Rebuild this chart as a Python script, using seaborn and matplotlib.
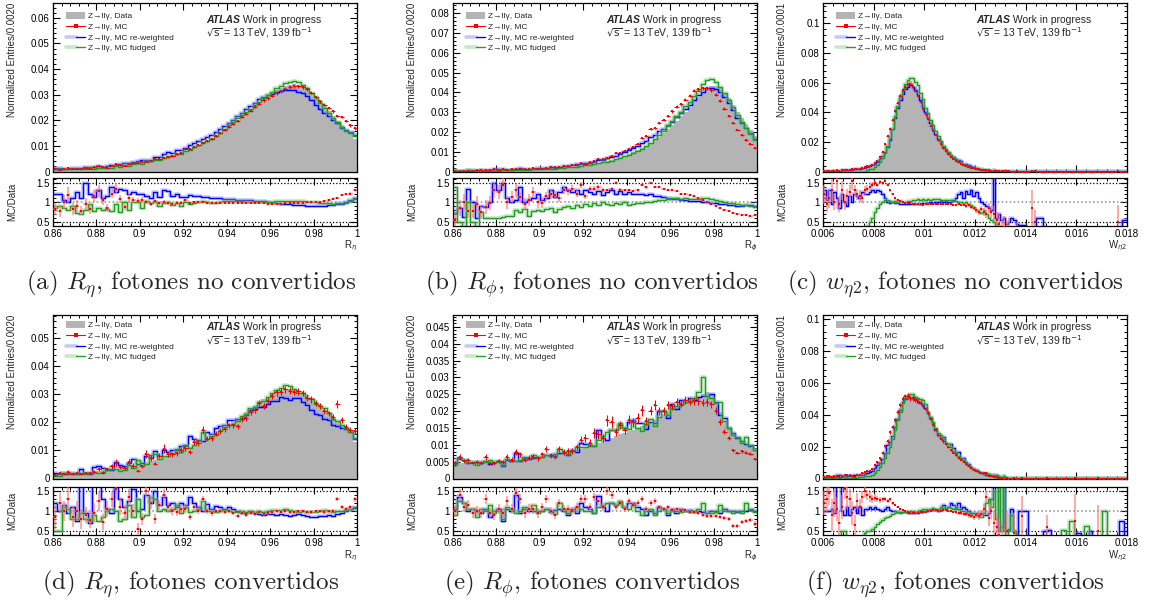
import numpy as np
import matplotlib
matplotlib.use("Agg")
import matplotlib.pyplot as plt
import seaborn as sns
from matplotlib.ticker import MultipleLocator, AutoMinorLocator, FuncFormatter
from matplotlib.patches import Patch
from matplotlib.lines import Line2D
from matplotlib.legend_handler import HandlerTuple

# ---------------------------------------------------------------- binning
EDGES_R = np.linspace(0.86, 1.0, 71)      # R_eta / R_phi, 0.002 per bin
EDGES_W = np.linspace(0.006, 0.018, 121)  # w_eta2, 0.0001 per bin

# ---------------------------------------------------------------- (a) R_eta, unconverted
DATA_A = [
    0.0010, 0.0010, 0.0011, 0.0011, 0.0012, 0.0012, 0.0013, 0.0013, 0.0014, 0.0015,
    0.0016, 0.0017, 0.0018, 0.0019, 0.0021, 0.0023, 0.0025, 0.0027, 0.0030, 0.0033,
    0.0036, 0.0039, 0.0042, 0.0046, 0.0050, 0.0054, 0.0059, 0.0064, 0.0070, 0.0076,
    0.0082, 0.0089, 0.0096, 0.0104, 0.0112, 0.0121, 0.0131, 0.0141, 0.0152, 0.0164,
    0.0176, 0.0189, 0.0203, 0.0217, 0.0231, 0.0245, 0.0259, 0.0273, 0.0286, 0.0298,
    0.0309, 0.0319, 0.0327, 0.0334, 0.0339, 0.0341, 0.0339, 0.0333, 0.0322, 0.0307,
    0.0290, 0.0272, 0.0254, 0.0236, 0.0217, 0.0198, 0.0180, 0.0162, 0.0148, 0.0128]
RATIO_MC_A = [
    0.82, 0.78, 1.0, 1.18, 0.82, 0.9, 0.78, 0.95, 0.82, 1.15,
    1.28, 1.05, 0.85, 1.22, 1.35, 1.08, 0.88, 1.1, 1.05, 1.02,
    1.05, 1.0, 0.95, 1.02, 0.98, 1.0, 0.97, 0.95, 0.98, 0.97,
    1.05, 0.98, 1.0, 1.0, 1.0, 0.99, 0.97, 0.98, 0.98, 0.99,
    0.98, 0.99, 0.98, 0.98, 0.97, 0.97, 0.98, 0.97, 0.97, 0.96,
    0.96, 0.96, 0.96, 0.97, 0.97, 0.98, 0.98, 0.99, 1.0, 1.0,
    1.0, 1.01, 1.03, 1.05, 1.08, 1.1, 1.18, 1.22, 1.22, 1.32]
RATIO_RW_A = [
    1.2, 1.2, 1.05, 1.0, 1.1, 1.25, 1.1, 1.48, 1.2, 1.12,
    1.3, 1.1, 1.15, 1.4, 1.25, 1.35, 1.3, 1.22, 1.25, 1.2,
    1.2, 1.15, 1.1, 1.25, 1.12, 1.3, 1.28, 1.15, 1.22, 1.12,
    1.12, 1.18, 1.15, 1.15, 1.12, 1.12, 1.1, 1.1, 1.1, 1.08,
    1.08, 1.07, 1.06, 1.06, 1.05, 1.05, 1.04, 1.03, 1.02, 1.0,
    0.98, 0.97, 0.96, 0.95, 0.94, 0.93, 0.92, 0.92, 0.91, 0.91,
    0.9, 0.9, 0.9, 0.92, 0.93, 0.95, 0.95, 1.0, 1.05, 1.1]
RATIO_FD_A = [
    0.85, 0.9, 0.85, 0.8, 0.9, 0.72, 0.7, 0.8, 0.95, 0.78,
    0.85, 0.8, 0.82, 0.78, 0.95, 0.75, 1.0, 0.8, 1.0, 1.0,
    0.85, 1.02, 0.98, 1.0, 0.9, 0.98, 1.0, 0.93, 0.98, 0.9,
    1.0, 0.95, 0.98, 1.0, 1.02, 1.0, 0.97, 0.98, 1.0, 1.02,
    1.03, 1.02, 1.03, 1.02, 1.0, 1.0, 1.01, 1.0, 1.0, 1.0,
    1.0, 1.02, 1.02, 1.03, 1.03, 1.04, 1.03, 1.02, 1.01, 1.0,
    1.0, 0.98, 0.98, 0.97, 0.96, 0.97, 0.97, 0.98, 1.02, 1.08]
ERR_MC_A = [
    0.15, 0.15, 0.18, 0.2, 0.15, 0.15, 0.12, 0.15, 0.12, 0.15,
    0.15, 0.12, 0.1, 0.12, 0.15, 0.1, 0.08, 0.1, 0.08, 0.08,
    0.07, 0.06, 0.06, 0.05, 0.05, 0.05, 0.05, 0.04, 0.04, 0.04,
    0.04, 0.03, 0.03, 0.03, 0.03, 0.03, 0.02, 0.02, 0.02, 0.02,
    0.02, 0.02, 0.02, 0.02, 0.02, 0.02, 0.02, 0.02, 0.02, 0.02,
    0.02, 0.02, 0.02, 0.02, 0.02, 0.02, 0.02, 0.02, 0.02, 0.02,
    0.02, 0.02, 0.02, 0.02, 0.02, 0.02, 0.02, 0.02, 0.03, 0.03]

# ---------------------------------------------------------------- (b) R_phi, unconverted
DATA_B = [
    0.0005, 0.0005, 0.0005, 0.0006, 0.0006, 0.0006, 0.0007, 0.0007, 0.0007, 0.0008,
    0.0008, 0.0009, 0.0009, 0.0010, 0.0010, 0.0011, 0.0011, 0.0012, 0.0013, 0.0014,
    0.0015, 0.0016, 0.0017, 0.0018, 0.0019, 0.0021, 0.0023, 0.0025, 0.0027, 0.0030,
    0.0033, 0.0036, 0.0040, 0.0044, 0.0048, 0.0053, 0.0058, 0.0064, 0.0071, 0.0079,
    0.0088, 0.0097, 0.0107, 0.0118, 0.0131, 0.0145, 0.0160, 0.0176, 0.0194, 0.0213,
    0.0234, 0.0256, 0.0279, 0.0302, 0.0325, 0.0355, 0.0378, 0.0400, 0.0420, 0.0432,
    0.0432, 0.0420, 0.0398, 0.0370, 0.0338, 0.0303, 0.0270, 0.0240, 0.0212, 0.0180]
RATIO_MC_B = [
    0.55, 0.85, 1.0, 0.78, 0.78, 0.95, 0.75, 0.88, 0.98, 1.3,
    1.25, 1.45, 1.0, 1.12, 1.3, 1.12, 0.95, 1.05, 1.25, 1.0,
    0.98, 1.15, 1.2, 1.18, 1.1, 1.3, 1.28, 1.35, 1.22, 1.45,
    1.15, 1.35, 1.35, 1.38, 1.32, 1.3, 1.35, 1.5, 1.32, 1.3,
    1.3, 1.28, 1.3, 1.45, 1.38, 1.48, 1.38, 1.4, 1.35, 1.32,
    1.3, 1.28, 1.22, 1.2, 1.18, 1.15, 1.1, 1.05, 1.0, 0.95,
    0.9, 0.85, 0.8, 0.76, 0.73, 0.7, 0.68, 0.66, 0.65, 0.66]
RATIO_RW_B = [
    0.72, 0.85, 0.62, 1.35, 1.0, 0.6, 0.9, 0.88, 1.0, 1.5,
    1.3, 1.5, 1.1, 1.0, 1.05, 1.4, 1.0, 1.05, 1.1, 1.2,
    1.05, 1.1, 1.3, 1.12, 1.25, 1.4, 1.3, 1.25, 1.32, 1.22,
    1.3, 1.25, 1.22, 1.28, 1.18, 1.25, 1.3, 1.2, 1.28, 1.22,
    1.25, 1.2, 1.22, 1.2, 1.18, 1.2, 1.15, 1.15, 1.12, 1.1,
    1.08, 1.08, 1.06, 1.05, 1.03, 1.02, 1.02, 1.0, 1.0, 0.98,
    0.97, 0.96, 0.95, 0.93, 0.92, 0.9, 0.9, 0.92, 0.93, 0.9]
RATIO_FD_B = [
    1.4, 0.5, 0.35, 1.0, 0.5, 0.3, 0.75, 0.6, 0.6, 0.58,
    0.6, 0.62, 0.65, 0.65, 0.8, 0.75, 0.82, 0.65, 0.78, 0.8,
    0.78, 0.82, 0.85, 0.75, 0.82, 0.88, 0.9, 0.85, 0.92, 0.88,
    0.95, 0.9, 0.98, 0.92, 1.0, 0.95, 0.92, 0.98, 0.95, 1.0,
    0.92, 0.95, 0.98, 0.98, 1.0, 1.0, 1.02, 1.05, 1.05, 1.08,
    1.1, 1.1, 1.08, 1.1, 1.08, 1.07, 1.08, 1.1, 1.1, 1.08,
    1.05, 1.02, 1.0, 0.98, 0.97, 0.95, 0.93, 0.92, 0.9, 0.88]
ERR_MC_B = [
    0.2, 0.2, 0.2, 0.2, 0.2, 0.2, 0.18, 0.18, 0.18, 0.18,
    0.18, 0.17, 0.17, 0.16, 0.16, 0.15, 0.15, 0.15, 0.14, 0.14,
    0.13, 0.12, 0.12, 0.11, 0.1, 0.1, 0.09, 0.09, 0.08, 0.08,
    0.07, 0.07, 0.06, 0.06, 0.05, 0.05, 0.05, 0.04, 0.04, 0.04,
    0.03, 0.03, 0.03, 0.03, 0.03, 0.02, 0.02, 0.02, 0.02, 0.02,
    0.02, 0.02, 0.02, 0.02, 0.02, 0.02, 0.02, 0.02, 0.02, 0.02,
    0.02, 0.02, 0.02, 0.02, 0.02, 0.02, 0.02, 0.02, 0.02, 0.02]

# ---------------------------------------------------------------- (c) w_eta2, unconverted
DATA_C = [
    0.0003, 0.0003, 0.0004, 0.0004, 0.0005, 0.0005, 0.0006, 0.0007, 0.0008, 0.0009,
    0.0010, 0.0011, 0.0013, 0.0015, 0.0017, 0.0019, 0.0022, 0.0025, 0.0028, 0.0032,
    0.0040, 0.0050, 0.0065, 0.0088, 0.0120, 0.0165, 0.0220, 0.0290, 0.0370, 0.0440,
    0.0500, 0.0550, 0.0585, 0.0605, 0.0612, 0.0600, 0.0575, 0.0545, 0.0500, 0.0450,
    0.0410, 0.0370, 0.0330, 0.0290, 0.0255, 0.0222, 0.0192, 0.0166, 0.0143, 0.0123,
    0.0106, 0.0091, 0.0078, 0.0066, 0.0056, 0.0047, 0.0040, 0.0034, 0.0029, 0.0025,
    0.0021, 0.0018, 0.0015, 0.0012, 0.0010, 0.0008, 0.0007, 0.0006, 0.0005, 0.0004,
    0.00035, 0.0003, 0.00026, 0.00022, 0.0002, 0.00018, 0.00016, 0.00014, 0.00012, 0.00011,
    0.0001, 0.00009, 0.00009, 0.00008, 0.00008, 0.00007, 0.00007, 0.00006, 0.00006, 0.00006,
    0.00005, 0.00005, 0.00005, 0.00005, 0.00005, 0.00005, 0.00005, 0.00005, 0.00005, 0.00005,
    0.00004, 0.00004, 0.00004, 0.00004, 0.00004, 0.00004, 0.00004, 0.00004, 0.00004, 0.00004,
    0.00003, 0.00003, 0.00003, 0.00003, 0.00003, 0.00003, 0.00003, 0.00003, 0.00003, 0.00003]
RATIO_MC_C = [
    1.2, 0.95, 1.1, 1.3, 1.0, 1.55, 0.95, 1.3, 1.0, 1.15,
    1.25, 1.55, 1.3, 1.2, 1.15, 1.1, 1.3, 1.35, 1.4, 1.45,
    1.5, 1.45, 1.52, 1.5, 1.55, 1.45, 1.3, 1.2, 1.1, 1.05,
    1.02, 1.0, 0.98, 0.97, 0.97, 0.95, 0.95, 0.94, 0.94, 0.93,
    0.94, 0.95, 0.94, 0.95, 0.96, 0.96, 0.95, 0.94, 0.96, 0.94,
    0.95, 0.93, 0.92, 0.95, 0.92, 0.93, 0.9, 0.92, 0.88, 0.85,
    0.8, 0.75, 0.82, 0.75, 0.7, 0.85, 0.75, 0.7, 0.55, 0.45,
    0.3, 0.35, 0.2, 0.3, 0, 0, 0.2, 0, 0, 0,
    0, 0, 0.85, 0.5, 0, 0, 0, 0, 0, 0,
    0, 0, 0, 0, 0, 0, 0, 0, 0, 0,
    0, 0, 0, 0, 0, 0, 0, 0, 0, 0,
    0, 0, 0, 0, 0, 0, 0.48, 0, 0, 0]
RATIO_RW_C = [
    1.3, 1.05, 1.3, 0.95, 1.25, 1.1, 0.85, 1.2, 1.0, 0.9,
    1.15, 1.0, 1.2, 1.15, 1.1, 1.25, 1.2, 1.2, 1.25, 1.3,
    1.25, 1.3, 1.28, 1.2, 1.1, 1.0, 0.98, 1.0, 0.98, 0.97,
    0.96, 0.95, 0.95, 0.94, 0.95, 0.95, 0.96, 0.95, 0.96, 0.97,
    0.98, 0.98, 1.0, 0.98, 1.0, 1.0, 1.02, 1.0, 1.02, 1.0,
    1.0, 1.05, 1.1, 1.2, 1.25, 1.1, 1.28, 1.2, 1.3, 1.15,
    1.25, 1.1, 1.0, 0.95, 0.9, 0.85, 0.8, 1.65, 0.6, 0.7,
    0.55, 0.6, 0.45, 0.5, 0.6, 0.55, 0.45, 0.42, 0.4, 0.4,
    0.3, 0.3, 0.3, 0.3, 0.58, 0.58, 0.58, 0.3, 0.3, 0.3,
    0.3, 0.3, 0.3, 0.3, 0.3, 0.3, 0.3, 0.3, 0.3, 0.3,
    0.3, 0.3, 0.3, 0.3, 0.3, 0.3, 0.3, 0.3, 0.3, 0.3,
    0.3, 0.3, 0.3, 0.3, 0.3, 0.3, 0.3, 0.3, 0.53, 0.53]
RATIO_FD_C = [
    0, 0, 0, 0, 0, 0, 0, 0, 0, 0,
    0, 0, 0, 0, 0, 0, 0, 0.4, 0.5, 0.6,
    0.75, 0.85, 0.95, 1.0, 1.05, 1.05, 1.02, 1.0, 1.02, 1.0,
    1.02, 1.0, 1.01, 1.02, 1.03, 1.05, 1.05, 1.07, 1.06, 1.08,
    1.05, 1.07, 1.06, 1.08, 1.07, 1.08, 1.06, 1.05, 1.06, 1.05,
    1.05, 1.03, 1.02, 1.0, 1.0, 0.98, 1.0, 0.95, 0.92, 0.88,
    0.8, 0.75, 0.72, 0.8, 0.7, 0.6, 0.55, 0.5, 0.45, 0.4,
    0, 0, 0, 0, 0, 0, 0, 0, 0, 0,
    0, 0, 0, 0, 0, 0, 0, 0, 0, 0,
    0, 0, 0, 0, 0, 0, 0, 0, 0, 0,
    0, 0, 0, 0, 0, 0, 0, 0, 0, 0,
    0, 0, 0, 0, 0, 0, 0, 0, 0, 0]
ERR_MC_C = [
    0.25, 0.2, 0.25, 0.3, 0.2, 0.3, 0.2, 0.25, 0.2, 0.2,
    0.2, 0.25, 0.15, 0.15, 0.15, 0.12, 0.12, 0.1, 0.1, 0.08,
    0.08, 0.07, 0.06, 0.05, 0.04, 0.03, 0.03, 0.02, 0.02, 0.02,
    0.02, 0.02, 0.02, 0.02, 0.02, 0.02, 0.02, 0.02, 0.02, 0.02,
    0.02, 0.02, 0.02, 0.02, 0.02, 0.02, 0.02, 0.02, 0.02, 0.02,
    0.02, 0.02, 0.03, 0.03, 0.03, 0.04, 0.04, 0.05, 0.05, 0.06,
    0.07, 0.08, 0.08, 0.1, 0.1, 0.12, 0.15, 0.2, 0.2, 0.25,
    0.3, 0.3, 0.3, 0.3, 0, 0, 0.3, 0, 0, 0,
    0, 0, 0.45, 0.3, 0, 0, 0, 0, 0, 0,
    0, 0, 0, 0, 0, 0, 0, 0, 0, 0,
    0, 0, 0, 0, 0, 0, 0, 0, 0, 0,
    0, 0, 0, 0, 0, 0, 0.45, 0, 0, 0]

# ---------------------------------------------------------------- (d) R_eta, converted
DATA_D = [
    0.0016, 0.0017, 0.0017, 0.0018, 0.0019, 0.0020, 0.0021, 0.0022, 0.0024, 0.0025,
    0.0027, 0.0029, 0.0031, 0.0033, 0.0035, 0.0037, 0.0040, 0.0043, 0.0046, 0.0050,
    0.0054, 0.0058, 0.0062, 0.0066, 0.0071, 0.0076, 0.0081, 0.0086, 0.0092, 0.0098,
    0.0104, 0.0111, 0.0118, 0.0126, 0.0134, 0.0142, 0.0151, 0.0160, 0.0170, 0.0180,
    0.0190, 0.0200, 0.0212, 0.0224, 0.0238, 0.0250, 0.0262, 0.0274, 0.0282, 0.0290,
    0.0300, 0.0308, 0.0315, 0.0318, 0.0320, 0.0318, 0.0312, 0.0305, 0.0297, 0.0288,
    0.0270, 0.0258, 0.0245, 0.0232, 0.0218, 0.0204, 0.0190, 0.0176, 0.0158, 0.0130]
RATIO_MC_D = [
    0.85, 1.2, 1.0, 1.3, 0.85, 1.0, 0.8, 0.9, 0.78, 0.95,
    1.25, 0.72, 1.05, 1.3, 1.55, 1.1, 0.95, 1.35, 1.0, 0.55,
    0.8, 1.5, 1.2, 0.8, 1.15, 1.4, 1.1, 1.0, 0.98, 1.05,
    1.05, 0.85, 1.1, 1.0, 1.3, 1.0, 0.95, 1.0, 1.0, 0.98,
    1.0, 0.95, 0.88, 0.95, 0.9, 0.95, 0.93, 0.98, 0.92, 0.95,
    0.98, 1.0, 0.98, 1.0, 0.98, 0.97, 1.0, 1.0, 0.97, 0.98,
    1.0, 1.0, 0.98, 1.0, 1.0, 1.3, 1.1, 1.05, 1.1, 1.3]
RATIO_RW_D = [
    1.2, 1.0, 1.15, 0.95, 1.1, 0.75, 1.65, 0.95, 0.7, 1.65,
    1.65, 1.3, 1.05, 0.95, 1.65, 1.3, 1.1, 1.25, 1.55, 1.0,
    1.05, 1.4, 1.2, 1.5, 1.15, 1.35, 1.15, 1.2, 1.1, 1.2,
    1.15, 1.35, 1.2, 1.1, 1.0, 1.18, 1.05, 1.12, 1.1, 1.05,
    1.1, 1.05, 1.0, 0.95, 0.95, 0.97, 0.95, 0.93, 0.9, 0.92,
    0.92, 0.9, 0.92, 0.9, 0.88, 0.9, 0.92, 0.9, 0.88, 0.85,
    0.85, 0.88, 0.87, 0.9, 0.88, 0.92, 0.95, 1.0, 1.05, 1.08]
RATIO_FD_D = [
    0.5, 0.5, 1.1, 1.05, 0.8, 0.8, 0.95, 0.8, 0.75, 0.9,
    0.75, 0.85, 1.0, 1.05, 1.0, 0.75, 0.8, 1.15, 0.85, 1.3,
    0.85, 0.9, 1.35, 1.3, 1.0, 1.05, 1.0, 1.05, 1.15, 0.95,
    1.1, 0.98, 1.0, 1.05, 1.25, 1.0, 1.0, 0.98, 1.0, 1.02,
    1.0, 0.98, 0.97, 1.0, 0.97, 1.0, 0.97, 1.0, 0.98, 1.0,
    1.02, 1.03, 1.02, 1.05, 1.03, 1.0, 0.98, 1.0, 0.97, 0.98,
    0.98, 1.0, 1.02, 1.0, 0.98, 1.0, 1.0, 1.02, 1.05, 1.1]
ERR_MC_D = [
    0.3, 0.25, 0.25, 0.3, 0.25, 0.25, 0.25, 0.2, 0.2, 0.25,
    0.25, 0.2, 0.2, 0.2, 0.25, 0.2, 0.2, 0.2, 0.18, 0.15,
    0.15, 0.18, 0.15, 0.12, 0.12, 0.15, 0.12, 0.1, 0.1, 0.1,
    0.1, 0.08, 0.08, 0.08, 0.08, 0.07, 0.06, 0.06, 0.06, 0.05,
    0.05, 0.05, 0.05, 0.05, 0.04, 0.04, 0.04, 0.04, 0.04, 0.04,
    0.04, 0.04, 0.04, 0.04, 0.04, 0.04, 0.04, 0.04, 0.04, 0.04,
    0.04, 0.04, 0.04, 0.04, 0.05, 0.05, 0.05, 0.05, 0.06, 0.06]

# ---------------------------------------------------------------- (e) R_phi, converted
DATA_E = [
    0.0045, 0.0046, 0.0046, 0.0047, 0.0047, 0.0048, 0.0048, 0.0049, 0.0049, 0.0050,
    0.0050, 0.0051, 0.0052, 0.0053, 0.0054, 0.0055, 0.0057, 0.0059, 0.0061, 0.0063,
    0.0065, 0.0067, 0.0069, 0.0071, 0.0073, 0.0075, 0.0078, 0.0081, 0.0084, 0.0088,
    0.0092, 0.0096, 0.0100, 0.0105, 0.0110, 0.0115, 0.0120, 0.0126, 0.0132, 0.0136,
    0.0140, 0.0145, 0.0150, 0.0156, 0.0162, 0.0168, 0.0174, 0.0182, 0.0190, 0.0198,
    0.0210, 0.0216, 0.0222, 0.0228, 0.0233, 0.0238, 0.0243, 0.0250, 0.0258, 0.0250,
    0.0228, 0.0198, 0.0170, 0.0150, 0.0135, 0.0122, 0.0112, 0.0102, 0.0094, 0.0086]
RATIO_MC_E = [
    1.0, 1.4, 1.1, 1.15, 0.95, 1.0, 0.95, 1.3, 0.95, 0.9,
    1.05, 0.95, 1.25, 1.05, 1.45, 1.3, 0.95, 1.05, 1.05, 0.95,
    1.1, 1.3, 1.0, 0.9, 1.2, 1.05, 1.05, 1.0, 1.1, 1.3,
    1.3, 1.1, 1.35, 1.25, 1.1, 1.5, 1.4, 1.1, 1.2, 1.05,
    1.25, 1.15, 1.2, 1.3, 1.05, 1.2, 1.25, 1.1, 1.05, 1.1,
    1.02, 1.05, 1.0, 1.02, 0.98, 0.97, 0.95, 0.9, 0.88, 0.88,
    0.88, 0.85, 0.82, 0.8, 0.62, 0.62, 0.72, 0.75, 0.78, 0.68]
RATIO_RW_E = [
    1.05, 1.35, 1.2, 1.0, 1.05, 1.0, 0.95, 1.05, 0.85, 1.0,
    1.05, 0.75, 1.05, 1.0, 1.4, 0.95, 1.05, 1.0, 1.0, 1.0,
    1.0, 1.05, 0.98, 1.02, 1.05, 1.0, 0.9, 1.05, 0.95, 1.2,
    1.1, 1.05, 0.95, 1.38, 1.1, 1.0, 1.2, 1.15, 1.2, 1.1,
    1.2, 1.2, 1.1, 1.05, 0.9, 1.0, 0.95, 1.1, 1.05, 0.9,
    1.05, 0.95, 1.05, 1.0, 1.02, 0.98, 1.0, 0.98, 0.95, 1.0,
    1.0, 0.95, 1.05, 1.0, 1.0, 0.98, 1.0, 1.0, 1.02, 1.0]
RATIO_FD_E = [
    0.9, 1.25, 1.2, 1.05, 1.05, 0.85, 1.05, 1.0, 1.15, 0.95,
    1.0, 0.8, 1.1, 1.05, 0.95, 1.0, 1.1, 1.05, 1.15, 0.95,
    1.0, 1.05, 1.0, 0.92, 1.2, 1.05, 0.95, 1.0, 1.1, 1.05,
    1.0, 1.0, 0.95, 1.1, 1.15, 1.2, 1.2, 1.15, 1.25, 1.1,
    1.05, 1.15, 1.0, 0.9, 1.0, 1.05, 0.9, 1.0, 1.05, 0.95,
    1.0, 1.0, 0.98, 1.0, 0.98, 1.0, 1.05, 1.2, 0.95, 0.95,
    0.98, 1.15, 1.0, 1.0, 0.95, 1.0, 0.95, 1.2, 1.05, 0.98]
ERR_MC_E = [
    0.15, 0.15, 0.12, 0.12, 0.12, 0.12, 0.12, 0.12, 0.12, 0.12,
    0.12, 0.12, 0.12, 0.12, 0.12, 0.12, 0.12, 0.12, 0.12, 0.12,
    0.1, 0.1, 0.1, 0.1, 0.1, 0.1, 0.1, 0.1, 0.1, 0.1,
    0.1, 0.1, 0.1, 0.1, 0.1, 0.1, 0.1, 0.08, 0.08, 0.08,
    0.08, 0.08, 0.08, 0.08, 0.07, 0.07, 0.07, 0.06, 0.06, 0.06,
    0.05, 0.05, 0.05, 0.05, 0.05, 0.05, 0.05, 0.05, 0.05, 0.05,
    0.05, 0.05, 0.05, 0.05, 0.05, 0.05, 0.05, 0.06, 0.06, 0.06]

# ---------------------------------------------------------------- (f) w_eta2, converted
DATA_F = [
    0.0010, 0.0010, 0.0010, 0.0011, 0.0011, 0.0012, 0.0012, 0.0013, 0.0013, 0.0014,
    0.0015, 0.0016, 0.0018, 0.0020, 0.0022, 0.0025, 0.0028, 0.0032, 0.0037, 0.0045,
    0.0062, 0.0078, 0.0098, 0.0125, 0.0155, 0.0190, 0.0225, 0.0268, 0.0320, 0.0380,
    0.0440, 0.0490, 0.0515, 0.0528, 0.0530, 0.0528, 0.0520, 0.0505, 0.0490, 0.0468,
    0.0445, 0.0410, 0.0370, 0.0330, 0.0300, 0.0272, 0.0248, 0.0228, 0.0210, 0.0195,
    0.0180, 0.0165, 0.0150, 0.0136, 0.0124, 0.0114, 0.0100, 0.0088, 0.0076, 0.0065,
    0.0055, 0.0046, 0.0038, 0.0032, 0.0027, 0.0022, 0.0018, 0.0015, 0.0013, 0.0011,
    0.0009, 0.0008, 0.0007, 0.0006, 0.0005, 0.0004, 0.00035, 0.0003, 0.00025, 0.0002,
    0.0002, 0.0002, 0.00018, 0.00018, 0.00016, 0.00016, 0.00015, 0.00015, 0.00014, 0.00014,
    0.00013, 0.00013, 0.00012, 0.00012, 0.00012, 0.00011, 0.00011, 0.00011, 0.0001, 0.0001,
    0.0001, 0.0001, 0.0001, 0.0001, 0.0001, 0.0001, 0.0001, 0.0001, 0.0001, 0.0001,
    0.00009, 0.00009, 0.00009, 0.00009, 0.00009, 0.00009, 0.00009, 0.00009, 0.00009, 0.00009]
RATIO_MC_F = [
    1.2, 1.3, 1.45, 0.9, 1.2, 1.05, 0.7, 1.1, 1.55, 1.35,
    1.3, 0.95, 0.65, 1.25, 1.1, 1.35, 1.5, 1.4, 1.35, 1.3,
    1.32, 1.3, 1.28, 1.3, 1.3, 1.25, 1.3, 1.2, 1.15, 1.1,
    1.05, 1.02, 1.0, 0.98, 0.95, 0.95, 0.95, 0.96, 0.97, 0.97,
    0.98, 1.0, 1.0, 1.02, 1.02, 1.0, 1.0, 1.02, 1.03, 1.0,
    1.0, 0.98, 0.97, 0.95, 0.95, 0.93, 0.92, 0.9, 0.88, 0.85,
    0.9, 0.88, 0.92, 1.05, 1.35, 0.82, 1.0, 0.7, 0.6, 0.4,
    0.3, 0, 0.5, 0, 0, 0.45, 0, 0, 0.87, 0,
    0, 0, 0, 0, 0, 0, 0, 0, 0.6, 0,
    0, 0, 0, 0, 0, 0, 0, 0, 0, 0.74,
    0, 0, 0, 0, 0, 0, 0, 0, 0.5, 0,
    0, 0, 0, 0, 0, 0, 0, 0, 0, 0]
RATIO_RW_F = [
    1.0, 1.0, 1.0, 1.05, 0.95, 1.65, 1.65, 1.0, 0.9, 1.1,
    0.9, 1.05, 1.1, 0.95, 1.1, 0.9, 1.05, 1.05, 1.1, 1.05,
    1.1, 1.05, 1.02, 1.0, 1.05, 1.1, 1.02, 1.0, 1.0, 0.98,
    0.98, 0.98, 0.97, 0.95, 0.95, 0.95, 0.96, 0.95, 0.97, 0.98,
    1.0, 1.0, 1.02, 1.05, 1.02, 1.0, 1.02, 1.15, 1.05, 1.1,
    1.2, 1.15, 1.05, 1.2, 1.05, 1.1, 1.05, 1.0, 0.95, 0.95,
    0.95, 0.9, 0.95, 0.9, 0.9, 0.95, 1.3, 1.65, 1.65, 0.5,
    0.6, 1.65, 0.5, 0.55, 1.05, 0.5, 0.3, 1.0, 1.0, 1.0,
    1.0, 0.3, 0.3, 0.3, 0.3, 0.3, 0.3, 0.5, 0.5, 0.52,
    0.3, 0.3, 0.3, 0.3, 0.3, 0.3, 0.3, 0.3, 0.3, 0.3,
    0.45, 0.45, 0.3, 0.3, 0.3, 0.5, 0.3, 0.3, 0.3, 0.3,
    0.3, 0.3, 0.3, 0.3, 0.3, 0.3, 0.3, 0.74, 0.74, 0.3]
RATIO_FD_F = [
    0.3, 0.3, 0.3, 0.3, 0.3, 0.3, 0.3, 0.5, 0.5, 0.3,
    0.3, 0.3, 0.3, 0.3, 0.3, 0.3, 0.45, 0.5, 0.5, 0.55,
    0.6, 0.68, 0.72, 0.78, 0.82, 0.85, 0.88, 0.92, 0.95, 0.97,
    0.95, 0.97, 0.98, 0.97, 1.0, 1.0, 0.98, 1.0, 1.02, 1.05,
    1.05, 1.02, 1.05, 1.08, 1.05, 1.05, 1.1, 1.08, 1.05, 1.1,
    1.08, 1.05, 1.1, 1.05, 1.0, 1.0, 0.98, 0.95, 0.9, 0.95,
    0.9, 0.85, 0.85, 0.95, 1.2, 1.3, 1.1, 1.5, 0.8, 1.65,
    0.5, 1.65, 0.4, 0.5, 0.9, 0.5, 0.3, 0.3, 0.3, 0.3,
    0.3, 0.3, 0.3, 0.3, 0.3, 0.3, 0.3, 0.3, 0.3, 0.3,
    0.3, 0.3, 0.3, 0.3, 0.52, 0.52, 0.3, 0.74, 0.74, 0.3,
    0.3, 0.3, 0.3, 0.62, 0.62, 0.3, 0.3, 0.3, 0.3, 0.3,
    1.0, 1.0, 0.3, 0.3, 0.3, 0.3, 0.3, 0.3, 0.3, 0.3]
ERR_MC_F = [
    0.3, 0.35, 0.3, 0.4, 0.35, 0.3, 0.3, 0.3, 0.25, 0.3,
    0.25, 0.3, 0.25, 0.2, 0.2, 0.15, 0.15, 0.12, 0.12, 0.1,
    0.1, 0.08, 0.07, 0.06, 0.05, 0.05, 0.04, 0.04, 0.03, 0.03,
    0.03, 0.03, 0.03, 0.03, 0.03, 0.03, 0.03, 0.03, 0.03, 0.03,
    0.03, 0.03, 0.03, 0.03, 0.03, 0.03, 0.03, 0.03, 0.03, 0.03,
    0.03, 0.03, 0.04, 0.04, 0.04, 0.05, 0.05, 0.06, 0.06, 0.07,
    0.08, 0.1, 0.1, 0.12, 0.15, 0.2, 0.2, 0.3, 0.3, 0.4,
    0.4, 0, 0.5, 0, 0, 0.5, 0, 0, 0.5, 0,
    0, 0, 0, 0, 0, 0, 0, 0, 0.3, 0,
    0, 0, 0, 0, 0, 0, 0, 0, 0, 0.7,
    0, 0, 0, 0, 0, 0, 0, 0, 0.65, 0,
    0, 0, 0, 0, 0, 0, 0, 0, 0, 0]

# ---------------------------------------------------------------- text
LEGEND_LABELS = ["Z\u2192ll\u03b3, Data", "Z\u2192ll\u03b3, MC",
                 "Z\u2192ll\u03b3, MC re-weighted", "Z\u2192ll\u03b3, MC fudged"]
CAPTIONS = [r"(a) $R_\eta$, fotones no convertidos",
            r"(b) $R_\phi$, fotones no convertidos",
            r"(c) $w_{\eta2}$, fotones no convertidos",
            r"(d) $R_\eta$, fotones convertidos",
            r"(e) $R_\phi$, fotones convertidos",
            r"(f) $w_{\eta2}$, fotones convertidos"]
XLABELS = [r"R$_{\eta}$", r"R$_{\phi}$", r"W$_{\eta2}$"]
YLABELS = ["Normalized Entries/0.0020", "Normalized Entries/0.0020",
           "Normalized Entries/0.0001"]

GRAY = "#b4b4b4"
RED = "#ff0000"
BLUE = "#0000ff"
BLUE_L = "#7f86ff"
GREEN = "#1f9f1f"
GREEN_L = "#86cc86"

# ---------------------------------------------------------------- style
sns.set_theme(style="ticks")
plt.rcParams["font.family"] = ["Liberation Sans", "DejaVu Sans"]
plt.rcParams.update({
    "axes.linewidth": 0.9,
    "axes.edgecolor": "black",
    "xtick.direction": "in", "ytick.direction": "in",
    "xtick.top": True, "ytick.right": True,
    "xtick.color": "black", "ytick.color": "black",
    "xtick.labelsize": 7, "ytick.labelsize": 7,
    "axes.labelsize": 7,
})

W, H = 1158, 610
fig = plt.figure(figsize=(W / 100, H / 100), dpi=100)


def px_axes(x0, y0, x1, y1):
    return fig.add_axes([x0 / W, 1 - y1 / H, (x1 - x0) / W, (y1 - y0) / H])


COL_LEFT = [53, 453, 823]
COL_W = 304
ROWS = [dict(main=(3, 171.5), ratio=(178, 225.5), cap=284, leg=12, atlas=20, lumi=33),
        dict(main=(315, 478.5), ratio=(486.5, 535), cap=584, leg=321, atlas=327, lumi=340.5)]
CAP_X = [191, 592, 955]

fmt = FuncFormatter(lambda v, p: f"{v:g}")


def step_hist(ax, edges, values, color, lw, alpha=1.0, fill=False):
    centers = 0.5 * (edges[:-1] + edges[1:])
    sns.histplot(x=centers, weights=values, bins=list(edges), element="step",
                 fill=fill, color=color, linewidth=lw, alpha=alpha, ax=ax)


def draw_panel(k, edges, data, r_mc, r_rw, r_fd, err, ymax, ystep, xstep):
    col, row = k % 3, k // 3
    lay = ROWS[row]
    x0 = COL_LEFT[col]
    ax = px_axes(x0, lay["main"][0], x0 + COL_W, lay["main"][1])
    rx = px_axes(x0, lay["ratio"][0], x0 + COL_W, lay["ratio"][1])

    data = np.asarray(data, float)
    r_mc, r_rw, r_fd, err = (np.asarray(v, float) for v in (r_mc, r_rw, r_fd, err))
    centers = 0.5 * (edges[:-1] + edges[1:])
    half = 0.5 * (edges[1] - edges[0])
    mc, rw, fd = data * r_mc, data * r_rw, data * r_fd

    # main distributions
    step_hist(ax, edges, data, GRAY, 0, fill=True)
    step_hist(ax, edges, rw, BLUE_L, 2.6, alpha=0.45)
    step_hist(ax, edges, rw, BLUE, 1.0)
    step_hist(ax, edges, fd, GREEN_L, 2.6, alpha=0.45)
    step_hist(ax, edges, fd, GREEN, 1.0)
    ax.errorbar(centers, mc, xerr=half, yerr=err * mc, fmt="s", ms=2.1, mew=0,
                color=RED, ecolor=RED, elinewidth=0.8, capsize=0, zorder=5)

    # ratio panel
    for yv, c, lw in ((0.5, "black", 0.9), (1.0, "#8c8c8c", 1.1), (1.5, "black", 0.9)):
        rx.axhline(yv, color=c, lw=lw, ls=(0, (1, 1.6)), zorder=1)
    step_hist(rx, edges, r_rw, BLUE_L, 2.6, alpha=0.45)
    step_hist(rx, edges, r_rw, BLUE, 1.0)
    step_hist(rx, edges, r_fd, GREEN_L, 2.6, alpha=0.45)
    step_hist(rx, edges, r_fd, GREEN, 1.0)
    rx.errorbar(centers, r_mc, xerr=half, yerr=err, fmt="s", ms=2.1, mew=0, color=RED,
                ecolor=(1.0, 0.45, 0.45, 0.6), elinewidth=1.5, capsize=0, zorder=5)

    # axes
    for a in (ax, rx):
        a.set_xlim(edges[0], edges[-1])
        a.xaxis.set_major_locator(MultipleLocator(xstep))
        a.xaxis.set_minor_locator(AutoMinorLocator(5))
        a.xaxis.set_major_formatter(fmt)
        a.yaxis.set_major_formatter(fmt)
        a.tick_params(which="both", direction="in", top=True, right=True, pad=2.5)
        a.tick_params(which="major", length=5, width=0.8)
        a.tick_params(which="minor", length=2.5, width=0.7)
        for s in a.spines.values():
            s.set_visible(True)
            s.set_linewidth(0.9)
    ax.set_ylim(0, ymax)
    ax.yaxis.set_major_locator(MultipleLocator(ystep))
    ax.yaxis.set_minor_locator(AutoMinorLocator(5))
    ax.tick_params(labelbottom=False)
    ax.set_xlabel("")
    ax.set_ylabel(YLABELS[col], loc="top")
    ax.yaxis.set_label_coords(-36 / COL_W, 1.0)

    rx.set_ylim(0.4, 1.62)
    rx.yaxis.set_major_locator(MultipleLocator(0.5))
    rx.yaxis.set_minor_locator(MultipleLocator(0.1))
    rx.set_ylabel("MC/Data")
    rx.yaxis.set_label_coords(-36 / COL_W, 0.5)
    rx.set_xlabel(XLABELS[col], loc="right")
    rx.xaxis.set_label_coords(1.0, -0.28)

    # legend
    handles = [Patch(facecolor=GRAY, edgecolor="none"),
               Line2D([], [], color=RED, marker="s", ms=2.4, mew=0, lw=0.8),
               (Line2D([], [], color=BLUE_L, lw=2.6, alpha=0.45), Line2D([], [], color=BLUE, lw=1.0)),
               (Line2D([], [], color=GREEN_L, lw=2.6, alpha=0.45), Line2D([], [], color=GREEN, lw=1.0))]
    ax.legend(handles, LEGEND_LABELS, handler_map={tuple: HandlerTuple(ndivide=None)},
              loc="upper left", bbox_to_anchor=((x0 + 13) / W, 1 - lay["leg"] / H),
              bbox_transform=fig.transFigure, frameon=False, fontsize=6,
              handlelength=2.3, handleheight=0.9, handletextpad=0.3,
              labelspacing=0.28, borderaxespad=0, borderpad=0)

    # experiment label
    tx = (x0 + 153) / W
    t = fig.text(tx, 1 - lay["atlas"] / H, "ATLAS", fontsize=7.5, fontweight="bold",
                 fontstyle="italic", va="center", ha="left")
    ax.annotate(" Work in progress", xy=(1, 0), xycoords=t, fontsize=7.5,
                va="bottom", ha="left", annotation_clip=False)
    fig.text(tx, 1 - lay["lumi"] / H, r"$\sqrt{\mathrm{s}}$ = 13 TeV, 139 fb$^{\mathrm{-1}}$",
             fontsize=7.5, va="center", ha="left")

    # caption
    fig.text(CAP_X[col] / W, 1 - lay["cap"] / H, CAPTIONS[k], ha="center", va="center",
             fontsize=18, family="cmr10", math_fontfamily="cm")


PANELS = [
    (EDGES_R, DATA_A, RATIO_MC_A, RATIO_RW_A, RATIO_FD_A, ERR_MC_A, 0.0658, 0.01, 0.02),
    (EDGES_R, DATA_B, RATIO_MC_B, RATIO_RW_B, RATIO_FD_B, ERR_MC_B, 0.0852, 0.01, 0.02),
    (EDGES_W, DATA_C, RATIO_MC_C, RATIO_RW_C, RATIO_FD_C, ERR_MC_C, 0.1137, 0.02, 0.002),
    (EDGES_R, DATA_D, RATIO_MC_D, RATIO_RW_D, RATIO_FD_D, ERR_MC_D, 0.0583, 0.01, 0.02),
    (EDGES_R, DATA_E, RATIO_MC_E, RATIO_RW_E, RATIO_FD_E, ERR_MC_E, 0.0485, 0.005, 0.02),
    (EDGES_W, DATA_F, RATIO_MC_F, RATIO_RW_F, RATIO_FD_F, ERR_MC_F, 0.1025, 0.02, 0.002),
]

for k, spec in enumerate(PANELS):
    n = len(spec[0]) - 1
    assert all(len(v) == n for v in spec[1:6]), (k, [len(v) for v in spec[1:6]])
    draw_panel(k, *spec)

fig.savefig("out.png", dpi=100, facecolor="white")
